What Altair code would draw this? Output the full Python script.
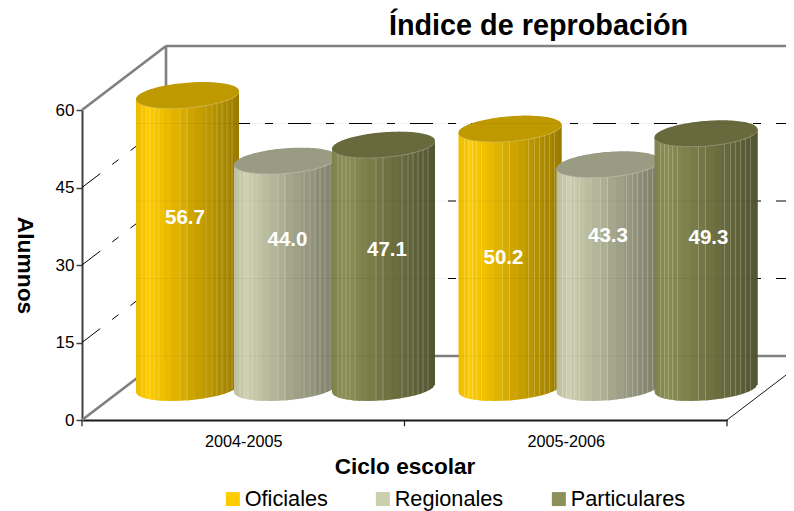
import math
import altair as alt
import pandas as pd

# ---- chart values ----
ciclos = ["2004-2005", "2005-2006"]
series = ["Oficiales", "Regionales", "Particulares"]
oficiales = [56.7, 50.2]
regionales = [44.0, 43.3]
particulares = [47.1, 49.3]
y_ticks = [0, 15, 30, 45, 60]
chart_title = "Índice de reprobación"
base_rgb = [(255, 204, 0), (204, 207, 174), (138, 141, 82)]
legend_hex = ["#FFCC00", "#CCCFAE", "#8E905A"]
label_heights = [[39.1, 31.4], [34.8, 35.6], [32.9, 35.2]]  # y-axis height of each label
label_shift = [[-2.5, -6.5], [2, 0], [3.5, 2.5]]            # px from the cylinder's centre

# ---- projection constants (page pixels per unit of each scale) ----
PX_X = 322.5          # px per category
PX_Y = 310 / 60       # px per y unit
DEPTH_X = 84 / PX_X
DEPTH_Y = 64 / PX_Y
CENTERS = [105.5, 203.5, 301.5]   # px from the group's left edge
R = 51.5
TILT = 4.0
MINOR = 12.4
BASE = 32.0
HIGHLIGHTS = [6, 10, 14, 18, 23, 44, 51, 70, 76, 81, 86, 91, 96]
N_SLATS = 20


def shade(rgb, k):
    return "#%02x%02x%02x" % tuple(max(0, min(255, int(round(c * k)))) for c in rgb)


def mix_white(rgb, a):
    return "#%02x%02x%02x" % tuple(int(round(c + (255 - c) * a)) for c in rgb)


def brightness(rel):
    if rel < 12:
        return 0.92 + 0.08 * rel / 12
    return 1 - 0.40 * (rel - 12) / 91


rows = []
gid = 0


def add(xa, ya, yb, color):
    global gid
    for x, a, b in zip(xa, ya, yb):
        rows.append({"x": x / PX_X, "y": a / PX_Y, "y2": b / PX_Y, "c": color, "g": gid})
    gid += 1


labels = []
series_values = [oficiales, regionales, particulares]
for g in range(2):
    for s in range(3):
        v = series_values[s][g]
        cx = g * PX_X + CENTERS[s]
        rgb = base_rgb[s]
        top = BASE + v * PX_Y

        def low(u):
            return BASE + TILT * u - MINOR * math.sqrt(max(0, 1 - u * u))

        def upp(u):
            return top + TILT * u

        edges = [-math.cos(math.pi * i / N_SLATS) for i in range(N_SLATS + 1)]
        for i in range(N_SLATS):
            u0, u1 = edges[i], edges[i + 1]
            rel = R * (0.5 * (u0 + u1) + 1)
            u1x = min(1, u1 + 0.012)
            add([cx + R * u0, cx + R * u1x], [low(u0), low(u1x)], [upp(u0), upp(u1x)],
                shade(rgb, brightness(rel)))
        for h in HIGHLIGHTS:
            u0 = (h - 0.4) / R - 1
            u1 = (h + 0.4) / R - 1
            add([cx + R * u0, cx + R * u1], [low(u0), low(u1)], [upp(u0), upp(u1)],
                mix_white(tuple(c * brightness(h) for c in rgb), 0.28))
        us = [-math.cos(math.pi * i / 60) for i in range(61)]
        add([cx + R * u for u in us],
            [top + TILT * u - MINOR * math.sqrt(max(0, 1 - u * u)) - 0.8 for u in us],
            [top + TILT * u - MINOR * math.sqrt(max(0, 1 - u * u)) + 1 for u in us],
            mix_white(tuple(c * 0.75 for c in rgb), 0.3))
        add([cx + R * u for u in us],
            [top + TILT * u - MINOR * math.sqrt(max(0, 1 - u * u)) for u in us],
            [top + TILT * u + MINOR * math.sqrt(max(0, 1 - u * u)) for u in us],
            shade(rgb, 0.75))
        labels.append({"x": (cx + label_shift[s][g]) / PX_X, "y": label_heights[s][g],
                       "t": f"{v:.1f}"})

df = pd.DataFrame(rows)
lab = pd.DataFrame(labels)

x_scale = alt.Scale(domain=[0, 2], nice=False, zero=False)
y_scale = alt.Scale(domain=[0, 60], nice=False, zero=False)
FONT = "Liberation Sans"

x_enc = alt.X(
    "x:Q", scale=x_scale, title="Ciclo escolar",
    axis=alt.Axis(values=[0.5, 1.5], labelExpr="datum.value < 1 ? '%s' : '%s'" % tuple(ciclos),
                  tickSize=0, grid=False, domainColor="#1a1a1a", domainWidth=2,
                  labelFont=FONT, labelFontSize=16.2, labelColor="#000", labelPadding=13,
                  titleFont=FONT, titleFontSize=22.6, titleFontWeight="bold", titleColor="#000",
                  titlePadding=6),
)
y_enc = alt.Y(
    "y:Q", scale=y_scale, title="Alumnos",
    axis=alt.Axis(values=y_ticks, tickSize=6, tickColor="#404040", tickWidth=1.5, grid=False,
                  domainColor="#404040", domainWidth=2, labelFont=FONT, labelFontSize=17,
                  labelColor="#000", labelPadding=2, titleFont=FONT, titleFontSize=22.8,
                  titleFontWeight="bold", titleColor="#000", titlePadding=43, titleAngle=90),
)

wall_gray = [
    (DEPTH_X, 60 + DEPTH_Y, 2.3, 60 + DEPTH_Y),
    (DEPTH_X, DEPTH_Y, 2.3, DEPTH_Y),
    (DEPTH_X, DEPTH_Y, DEPTH_X, 60 + DEPTH_Y),
    (0, 60, DEPTH_X, 60 + DEPTH_Y),
    (0, 0, DEPTH_X, DEPTH_Y),
]
walls = pd.DataFrame(wall_gray, columns=["x", "y", "x2", "y2"])
grid_rows = []
for t in y_ticks[1:-1]:
    grid_rows.append((0, t, DEPTH_X, t + DEPTH_Y))
    grid_rows.append((DEPTH_X, t + DEPTH_Y, 2.3, t + DEPTH_Y))
grid = pd.DataFrame(grid_rows, columns=["x", "y", "x2", "y2"])
right = pd.DataFrame([(2, 0, 2 + DEPTH_X, DEPTH_Y)], columns=["x", "y", "x2", "y2"])
ticks = pd.DataFrame({"x": [0, 1, 2], "y": [0, 0, 0], "y2": [-1.2, -1.2, -1.2]})
faint = pd.DataFrame({"x": [54 / PX_X] * 4, "x2": [675 / PX_X] * 4,
                      "y": [t + DEPTH_Y for t in y_ticks[:-1]]})
legend_df = pd.DataFrame({"s": series, "x": [1, 1, 1], "y": [30, 30, 30]})
title_df = pd.DataFrame({"t": [chart_title], "x": [456.5 / PX_X], "y": [385 / PX_Y]})


def rule(data, **kw):
    return alt.Chart(data).mark_rule(**kw).encode(
        x=alt.X("x:Q", scale=x_scale), x2="x2:Q",
        y=alt.Y("y:Q", scale=y_scale), y2="y2:Q")


layers = [
    alt.Chart(df).mark_area(opacity=0).encode(x=x_enc, y=y_enc, y2="y2:Q"),
    rule(walls, color="#808080", strokeWidth=2.6),
    rule(grid, color="#000000", strokeWidth=1, strokeDash=[23, 15, 8, 15]),
    rule(right, color="#1a1a1a", strokeWidth=1),
    alt.Chart(ticks).mark_rule(color="#1a1a1a", strokeWidth=1.2).encode(
        x=alt.X("x:Q", scale=x_scale), y=alt.Y("y:Q", scale=y_scale), y2="y2:Q"),
    alt.Chart(df).mark_area(interpolate="linear", strokeWidth=0).encode(
        x=alt.X("x:Q", scale=x_scale),
        y=alt.Y("y:Q", scale=y_scale), y2="y2:Q",
        color=alt.Color("c:N", scale=None), detail="g:N"),
    alt.Chart(faint).mark_rule(color="#000000", opacity=0.05, strokeWidth=1).encode(
        x=alt.X("x:Q", scale=x_scale), x2="x2:Q", y=alt.Y("y:Q", scale=y_scale)),
    alt.Chart(lab).mark_text(font=FONT, fontSize=20.5, fontWeight="bold", color="white").encode(
        x=alt.X("x:Q", scale=x_scale), y=alt.Y("y:Q", scale=y_scale), text="t:N"),
    alt.Chart(title_df).mark_text(font=FONT, fontSize=28.8, fontWeight="bold", color="#000",
                                  baseline="alphabetic").encode(
        x=alt.X("x:Q", scale=x_scale), y=alt.Y("y:Q", scale=y_scale), text="t:N"),
    alt.Chart(legend_df).mark_square(size=0, opacity=0).encode(
        x=alt.X("x:Q", scale=x_scale), y=alt.Y("y:Q", scale=y_scale),
        color=alt.Color("s:N", sort=series,
                        scale=alt.Scale(domain=series, range=legend_hex),
                        legend=alt.Legend(
                            title=None, orient="none", legendX=140, legendY=378,
                            direction="horizontal", columns=3, symbolType="square",
                            symbolSize=196, symbolOpacity=1, symbolStrokeWidth=0,
                            labelFont=FONT, labelFontSize=21.7, labelColor="#000",
                            labelOffset=1, columnPadding=44, padding=0)),
    ),
]

chart = alt.layer(*layers).properties(
    width=645, height=310,
    padding={"left": 74, "top": 102, "right": 59, "bottom": 91},
    autosize=alt.AutoSizeParams(type="none"),
    background="white",
).configure_view(stroke=None)

chart.save("out.html", embed_options={"renderer": "svg", "actions": False})
